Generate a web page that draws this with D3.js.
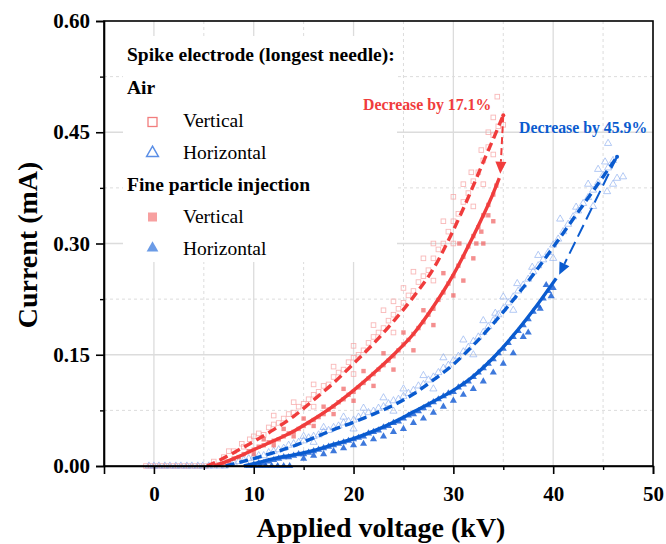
<!DOCTYPE html>
<html><head><meta charset="utf-8">
<script src="https://cdn.jsdelivr.net/npm/d3@7"></script>
<style>
html,body{margin:0;padding:0;background:#fff;}
svg text{font-family:"Liberation Serif","Times New Roman",serif;}
</style></head>
<body><svg id="c" width="666" height="544"></svg>
<script>
// ---------- data (kV, mA) ----------
const xTicks = [0, 10, 20, 30, 40, 50];
const yTicks = [0.00, 0.15, 0.30, 0.45, 0.60];
const xMinor = [-5, 5, 15, 25, 35, 45];
const yMinor = [0.075, 0.225, 0.375, 0.525];

// Air, vertical (open squares)
const airVertical = [[-0.8,0],[-0.3,0],[0.2,0],[0.8,0],[1.3,0],[1.9,0],[2.4,0],[3,0],[3.5,0],[4.1,0],[4.6,0],[5.2,0],
[6,0.006],[7,0.012],[7.5,0.02],[8,0.02],[8.8,0.03],[9,0.026],[9.6,0.036],[10,0.04],[10.5,0.044],[11,0.042],[11.5,0.052],[12,0.056],[12.5,0.058],[13,0.064],[13.5,0.07],[14,0.072],[14.5,0.08],[15,0.084],[15.5,0.09],[16,0.096],[16.5,0.1],[17,0.108],[17.5,0.11],[18,0.12],[18.5,0.126],[19,0.13],[19.5,0.14],[20,0.146],[20.5,0.15],[21,0.156],[21.5,0.166],[22,0.174],[22.5,0.18],[23,0.186],[23.5,0.196],[24,0.204],[24.5,0.212],[25,0.22],[25.5,0.23],[26,0.236],[26.5,0.248],[27,0.256],[27.5,0.264],[28,0.28],[28.5,0.292],[29,0.3],[29.5,0.316],[30,0.33],[30.5,0.34],[31,0.356],[31.5,0.368],[32,0.384],[32.5,0.396],[33,0.412],[33.5,0.43],[34,0.446],[34.5,0.458],[34.4,0.498],
[12,0.068],[14,0.086],[16,0.11],[18,0.134],[20,0.162],[22,0.19],[23,0.21],[24,0.222],[25,0.24],[26,0.262],[27,0.28],[28,0.3],[29,0.33],[30,0.363],[31,0.38],[31.8,0.396],[32.8,0.426],[33.5,0.45],[34,0.47],
[16,0.08],[20,0.124],[24,0.18],[28,0.25],[30,0.3],[32,0.35],[34,0.42],[35,0.46],[33,0.38]];

// Fine particle injection, vertical (filled squares)
const fpVertical = [[6.5,0.002],[7,0.004],[7.5,0.006],[8,0.01],[8.5,0.012],[9,0.016],[9.5,0.02],[10,0.022],[10.5,0.026],[11,0.028],[11.5,0.032],[12,0.034],[12.5,0.036],[13,0.04],[13.5,0.044],[14,0.046],[14.5,0.05],[15,0.054],[15.5,0.058],[16,0.062],[16.5,0.066],[17,0.07],[17.5,0.076],[18,0.08],[18.5,0.086],[19,0.09],[19.5,0.096],[20,0.1],[20.5,0.106],[21,0.112],[21.5,0.118],[22,0.124],[22.5,0.13],[23,0.136],[23.5,0.142],[24,0.148],[24.5,0.156],[25,0.164],[25.5,0.17],[26,0.178],[26.5,0.186],[27,0.194],[27.5,0.204],[28,0.212],[28.5,0.224],[29,0.234],[29.5,0.246],[30,0.256],[30.5,0.27],[31,0.282],[31.5,0.296],[32,0.31],[32.5,0.322],[33,0.338],[33.5,0.352],[34,0.366],[34.3,0.378],
[10,0.016],[12,0.028],[14,0.04],[16,0.054],[18,0.07],[20,0.088],[22,0.108],[24,0.13],[26,0.156],[28,0.19],[30,0.23],[32,0.28],[34,0.33],[11,0.036],[13,0.05],[15,0.064],[17,0.08],[19,0.104],[21,0.128],[23,0.152],[25,0.18],[27,0.21],[29,0.26],[30.6,0.3],[32.3,0.3],[32.8,0.316],[33.5,0.338],[31,0.25],[33,0.3]];

// Air, horizontal (open triangles)
const airHorizontal = [[-0.5,0],[0,0],[0.5,0],[1.1,0],[1.6,0],[2.2,0],[2.7,0],[3.3,0],[3.8,0],[4.4,0],[4.9,0],[5.5,0],[6,0],[6.6,0],[7.1,0],
[7.6,0.002],[8,0.004],[8.5,0.006],[9,0.008],[9.5,0.01],[10,0.012],[10.5,0.014],[11,0.014],[11.5,0.018],[12,0.02],[12.5,0.022],[13,0.024],[13.5,0.028],[14,0.03],[14.5,0.032],[15,0.034],[15.5,0.038],[16,0.04],[16.5,0.042],[17,0.046],[17.5,0.048],[18,0.052],[18.5,0.054],[19,0.058],[19.5,0.06],[20,0.062],[20.5,0.066],[21,0.068],[21.5,0.072],[22,0.074],[22.5,0.078],[23,0.08],[23.5,0.084],[24,0.088],[24.5,0.09],[25,0.094],[25.5,0.098],[26,0.102],[26.5,0.108],[27,0.11],[27.5,0.116],[28,0.12],[28.5,0.126],[29,0.132],[29.5,0.136],[30,0.142],[30.5,0.148],[31,0.154],[31.5,0.16],[32,0.168],[32.5,0.174],[33,0.18],[33.5,0.188],[34,0.196],[34.5,0.204],[35,0.212],[35.5,0.22],[36,0.228],[36.5,0.236],[37,0.244],[37.5,0.252],[38,0.262],[38.5,0.27],[39,0.278],[39.5,0.288],[40,0.298],[40.5,0.306],[41,0.316],[41.5,0.326],[42,0.336],[42.5,0.344],[43,0.354],[43.5,0.362],[44,0.372],[44.5,0.382],[45,0.392],[45.5,0.402],[46,0.412],
[15,0.04],[17,0.052],[19,0.066],[21,0.078],[23,0.092],[25,0.104],[27,0.122],[29,0.146],[31,0.17],[33,0.196],[34.2,0.206],[35,0.228],[36.4,0.246],[37.9,0.268],[38.5,0.284],[40.7,0.333],[42.3,0.349],[43.5,0.38],[44.5,0.4],[45.5,0.435],[45.2,0.41],
[16,0.032],[20,0.05],[24,0.074],[28,0.104],[32,0.15],[36,0.21],[40,0.28],[44,0.35],[46.4,0.388],[47,0.39],[45.4,0.37],[46,0.38]];

// Fine particle injection, horizontal (filled triangles)
const fpHorizontal = [[9.5,0],[10,0],[10.6,0],[11.2,0],[11.8,0],[12.4,0],[13,0],[13.6,0],
[10,0.002],[10.5,0.004],[11,0.004],[11.5,0.006],[12,0.008],[12.5,0.01],[13,0.012],[13.5,0.012],[14,0.014],[14.5,0.016],[15,0.016],[15.5,0.018],[16,0.02],[16.5,0.022],[17,0.024],[17.5,0.026],[18,0.028],[18.5,0.03],[19,0.032],[19.5,0.034],[20,0.036],[20.5,0.038],[21,0.04],[21.5,0.044],[22,0.046],[22.5,0.048],[23,0.052],[23.5,0.054],[24,0.058],[24.5,0.06],[25,0.064],[25.5,0.068],[26,0.07],[26.5,0.074],[27,0.078],[27.5,0.082],[28,0.086],[28.5,0.09],[29,0.094],[29.5,0.098],[30,0.1],[30.5,0.106],[31,0.11],[31.5,0.114],[32,0.12],[32.5,0.126],[33,0.132],[33.5,0.138],[34,0.144],[34.5,0.152],[35,0.158],[35.5,0.166],[36,0.174],[36.5,0.182],[37,0.19],[37.5,0.198],[38,0.208],[38.5,0.216],[39,0.226],[39.5,0.236],
[15,0.01],[16,0.014],[17,0.016],[18,0.02],[19,0.024],[20,0.028],[21,0.03],[22,0.036],[23,0.04],[24,0.046],[25,0.05],[26,0.058],[27,0.064],[28,0.072],[29,0.08],[30,0.088],[31,0.096],[32,0.104],[33,0.114],[34,0.126],[35,0.138],[36,0.152],[37,0.174],[38.7,0.212],[39.3,0.244],[39.8,0.229],[40,0.24],[37.5,0.18]];

// fitted curves
const fitAirVertical = [[5.3,0],[6,0.004],[8,0.018],[10,0.033],[12,0.049],[14,0.067],[16,0.089],[18,0.112],[20,0.138],[22,0.165],[24,0.195],[26,0.228],[28,0.266],[30,0.318],[32,0.378],[33,0.41],[34,0.441],[35,0.473]];
const fitFpVertical = [[6,0],[8,0.01],[10,0.022],[12,0.034],[14,0.047],[16,0.063],[18,0.081],[20,0.102],[22,0.125],[24,0.150],[26,0.178],[28,0.215],[30,0.258],[32,0.31],[33,0.338],[34,0.368],[34.6,0.388]];
const fitAirHorizontal = [[7.2,0],[8,0.003],[10,0.010],[12,0.018],[14,0.027],[16,0.038],[18,0.049],[20,0.059],[22,0.070],[24,0.082],[26,0.097],[28,0.116],[30,0.137],[32,0.163],[34,0.192],[36,0.224],[38,0.258],[40,0.295],[42,0.333],[44,0.371],[46.4,0.417]];
const fitFpHorizontal = [[9,0],[10,0.003],[12,0.010],[14,0.015],[16,0.021],[18,0.029],[20,0.037],[22,0.047],[24,0.059],[26,0.073],[28,0.087],[30,0.102],[32,0.121],[34,0.146],[36,0.176],[38,0.21],[40.3,0.253]];

// decrease arrows: [from, to]
const arrowVertical = [[35.0,0.473],[34.7,0.394]];
const arrowHorizontal = [[46.4,0.417],[40.6,0.258]];
const annotations = ["Decrease by 17.1%", "Decrease by 45.9%"];

// ---------- drawing ----------
const RED = "#f03c3c", BLUE = "#0a5bcf";
const svg = d3.select("#c");
const L = 104, R = 653, T = 21, B = 466;
const x = d3.scaleLinear().domain([-5, 50]).range([L, R]);
const y = d3.scaleLinear().domain([0, 0.6]).range([B, T]);

// grid
const g = svg.append("g");
g.selectAll(".gx").data(xTicks.filter(d => d < 50)).enter().append("line")
  .attr("x1", d => x(d)).attr("x2", d => x(d)).attr("y1", T).attr("y2", B)
  .attr("stroke", "#dcdcdc").attr("stroke-width", 1.3);
g.selectAll(".gxm").data(xMinor.filter(d => d > -5)).enter().append("line")
  .attr("x1", d => x(d)).attr("x2", d => x(d)).attr("y1", T).attr("y2", B)
  .attr("stroke", "#dcdcdc").attr("stroke-width", 1).attr("stroke-dasharray", "3,3");
g.selectAll(".gy").data(yTicks.filter(d => d > 0 && d < 0.6)).enter().append("line")
  .attr("y1", d => y(d)).attr("y2", d => y(d)).attr("x1", L).attr("x2", R)
  .attr("stroke", "#dcdcdc").attr("stroke-width", 1.3);
g.selectAll(".gym").data(yMinor).enter().append("line")
  .attr("y1", d => y(d)).attr("y2", d => y(d)).attr("x1", L).attr("x2", R)
  .attr("stroke", "#dcdcdc").attr("stroke-width", 1).attr("stroke-dasharray", "3,3");

// legend background covering grid
svg.append("rect").attr("x", 123).attr("y", 36).attr("width", 274).attr("height", 226).attr("fill", "#fff");

// scatter
const tri = d3.symbol().type(d3.symbolTriangle).size(22);
const pts = svg.append("g");
pts.selectAll(".av").data(airVertical).enter().append("rect")
  .attr("x", d => x(d[0]) - 2.3).attr("y", d => y(d[1]) - 2.3).attr("width", 4.6).attr("height", 4.6)
  .attr("fill", "none").attr("stroke", "#f59a9a").attr("stroke-width", 0.9).attr("opacity", 0.7);
pts.selectAll(".ah").data(airHorizontal).enter().append("path")
  .attr("d", tri).attr("transform", d => `translate(${x(d[0])},${y(d[1])})`)
  .attr("fill", "none").attr("stroke", "#8fb0ee").attr("stroke-width", 0.9).attr("opacity", 0.75);
pts.selectAll(".fv").data(fpVertical).enter().append("rect")
  .attr("x", d => x(d[0]) - 2.2).attr("y", d => y(d[1]) - 2.2).attr("width", 4.4).attr("height", 4.4)
  .attr("fill", "#f06060").attr("opacity", 0.7);
pts.selectAll(".fh").data(fpHorizontal).enter().append("path")
  .attr("d", tri).attr("transform", d => `translate(${x(d[0])},${y(d[1])})`)
  .attr("fill", "#1c62d6").attr("opacity", 0.85);

// fit curves
const line = d3.line().x(d => x(d[0])).y(d => y(d[1])).curve(d3.curveMonotoneX);
const curves = svg.append("g").attr("fill", "none").attr("stroke-width", 3.4);
curves.append("path").attr("d", line(fitAirVertical)).attr("stroke", RED).attr("stroke-dasharray", "9,5");
curves.append("path").attr("d", line(fitFpVertical)).attr("stroke", RED);
curves.append("path").attr("d", line(fitAirHorizontal)).attr("stroke", BLUE).attr("stroke-dasharray", "9,5");
curves.append("path").attr("d", line(fitFpHorizontal)).attr("stroke", BLUE);

// arrows
function arrow(pair, color, dash) {
  const [a, b] = pair;
  const x1 = x(a[0]), y1 = y(a[1]), x2 = x(b[0]), y2 = y(b[1]);
  const ang = Math.atan2(y2 - y1, x2 - x1);
  const hl = 12, hw = 5.5;
  const bx = x2 - hl * Math.cos(ang), by = y2 - hl * Math.sin(ang);
  svg.append("line").attr("x1", x1).attr("y1", y1).attr("x2", bx).attr("y2", by)
    .attr("stroke", color).attr("stroke-width", 2).attr("stroke-dasharray", dash);
  const px = -Math.sin(ang), py = Math.cos(ang);
  svg.append("path").attr("d", `M${x2},${y2}L${bx + px*hw},${by + py*hw}L${bx - px*hw},${by - py*hw}Z`).attr("fill", color);
  svg.append("circle").attr("cx", x1).attr("cy", y1).attr("r", 2).attr("fill", color);
}
arrow(arrowVertical, RED, "7,4");
arrow(arrowHorizontal, BLUE, "13,6");

// annotations
svg.append("text").attr("x", 363).attr("y", 110).attr("font-size", 15.8).attr("font-weight", "bold")
  .attr("fill", RED).text(annotations[0]);
svg.append("text").attr("x", 519).attr("y", 133).attr("font-size", 15.8).attr("font-weight", "bold")
  .attr("fill", BLUE).text(annotations[1]);

// frame
svg.append("rect").attr("x", L).attr("y", T).attr("width", R - L).attr("height", B - T)
  .attr("fill", "none").attr("stroke", "#000").attr("stroke-width", 1.6);

// axes
const xAxis = d3.axisBottom(x).tickValues(xTicks).tickSize(8).tickPadding(12).tickFormat(d3.format("d"));
const yAxis = d3.axisLeft(y).tickValues(yTicks).tickSize(8).tickPadding(6).tickFormat(d3.format(".2f"));
const ax = svg.append("g").attr("transform", `translate(0,${B})`).call(xAxis);
const ay = svg.append("g").attr("transform", `translate(${L},0)`).call(yAxis);
[ax, ay].forEach(a => {
  a.select(".domain").attr("stroke-width", 1.6);
  a.selectAll(".tick line").attr("stroke-width", 1.6);
  a.selectAll("text").attr("font-size", 21).attr("font-weight", "bold").attr("fill", "#000")
    .attr("font-family", "Liberation Serif, Times New Roman, serif");
});
svg.append("g").attr("transform", `translate(0,${B})`)
  .call(d3.axisBottom(x).tickValues(xMinor.filter(d => d > -5)).tickSize(4).tickFormat(""))
  .call(s => s.select(".domain").remove()).selectAll("line").attr("stroke-width", 1.4);
svg.append("g").attr("transform", `translate(${L},0)`)
  .call(d3.axisLeft(y).tickValues(yMinor).tickSize(4).tickFormat(""))
  .call(s => s.select(".domain").remove()).selectAll("line").attr("stroke-width", 1.4);

// axis titles
svg.append("text").attr("x", 381).attr("y", 537).attr("text-anchor", "middle")
  .attr("font-size", 28).attr("font-weight", "bold").text("Applied voltage (kV)");
svg.append("text").attr("transform", "translate(37,245) rotate(-90)").attr("text-anchor", "middle")
  .attr("font-size", 28).attr("font-weight", "bold").text("Current (mA)");

// legend
const lg = svg.append("g").attr("font-size", 19.5);
lg.append("text").attr("x", 127).attr("y", 61).attr("font-weight", "bold").text("Spike electrode (longest needle):");
lg.append("text").attr("x", 127).attr("y", 94).attr("font-weight", "bold").text("Air");
lg.append("text").attr("x", 183).attr("y", 127).text("Vertical");
lg.append("text").attr("x", 183).attr("y", 159).text("Horizontal");
lg.append("text").attr("x", 127).attr("y", 191).attr("font-weight", "bold").text("Fine particle injection");
lg.append("text").attr("x", 183).attr("y", 223).text("Vertical");
lg.append("text").attr("x", 183).attr("y", 255).text("Horizontal");
const ltri = d3.symbol().type(d3.symbolTriangle).size(60);
lg.append("rect").attr("x", 148).attr("y", 117.5).attr("width", 9).attr("height", 9)
  .attr("fill", "none").attr("stroke", "#f27d7d").attr("stroke-width", 1.3);
lg.append("path").attr("d", ltri).attr("transform", "translate(152.5,153)")
  .attr("fill", "none").attr("stroke", "#5b8fe6").attr("stroke-width", 1.5);
lg.append("rect").attr("x", 148).attr("y", 212.5).attr("width", 9).attr("height", 9).attr("fill", "#f7a0a0");
lg.append("path").attr("d", ltri).attr("transform", "translate(152.5,248)").attr("fill", "#6b9be6");
</script></body></html>
